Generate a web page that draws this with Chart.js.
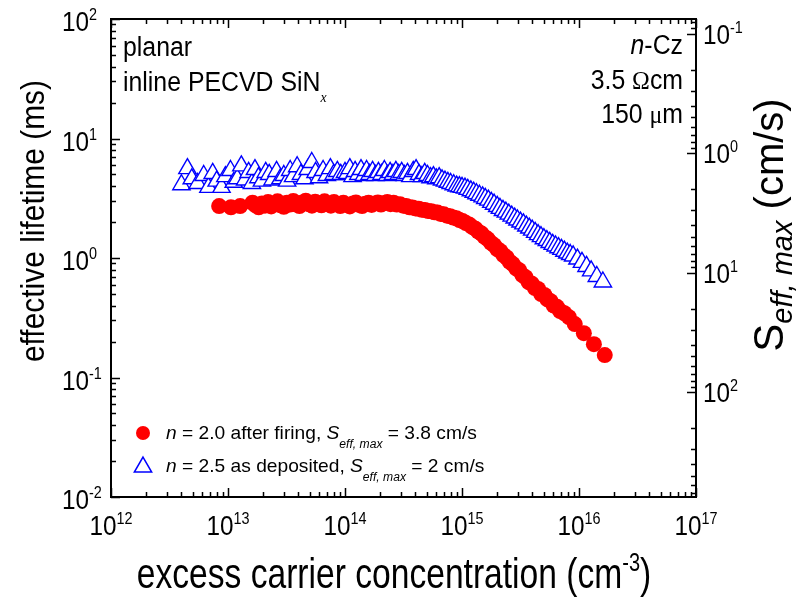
<!DOCTYPE html>
<html lang="en">
<head>
<meta charset="UTF-8">
<title>Effective lifetime vs excess carrier concentration</title>
<script src="https://cdn.jsdelivr.net/npm/chart.js"></script>
<style>
  body { margin: 0; background: #fff; }
  #wrap { width: 800px; height: 606px; }
</style>
</head>
<body>
<div id="wrap"><canvas id="lifetimeChart" width="800" height="606"></canvas></div>
<script>
// n = 2.0 after firing (red circles): excess carrier density (cm^-3) and lifetime (ms)
const firedN = [
  8.4e12, 1.06e13, 1.27e13, 1.62e13, 1.72e13, 1.83e13, 1.95e13, 2.07e13, 2.2e13, 2.34e13,
  2.49e13, 2.65e13, 2.82e13, 3.0e13, 3.19e13, 3.39e13, 3.61e13, 3.84e13, 4.08e13, 4.34e13,
  4.62e13, 4.91e13, 5.22e13, 5.56e13, 5.91e13, 6.29e13, 6.69e13, 7.11e13, 7.57e13, 8.05e13,
  8.56e13, 9.1e13, 9.68e13, 1.03e14, 1.1e14, 1.17e14, 1.24e14, 1.32e14, 1.4e14, 1.49e14,
  1.59e14, 1.69e14, 1.8e14, 1.91e14, 2.03e14, 2.16e14, 2.3e14, 2.45e14, 2.6e14, 2.77e14,
  2.95e14, 3.14e14, 3.34e14, 3.55e14, 3.77e14, 4.01e14, 4.27e14, 4.54e14, 4.83e14, 5.14e14,
  5.46e14, 5.81e14, 6.18e14, 6.57e14, 6.99e14, 7.44e14, 7.91e14, 8.41e14, 8.95e14, 9.52e14,
  1.01e15, 1.08e15, 1.15e15, 1.22e15, 1.3e15, 1.38e15, 1.47e15, 1.56e15, 1.66e15, 1.77e15,
  1.88e15, 2.0e15, 2.13e15, 2.26e15, 2.41e15, 2.56e15, 2.72e15, 2.9e15, 3.08e15, 3.28e15,
  3.49e15, 3.71e15, 3.95e15, 4.2e15, 4.47e15, 4.75e15, 5.06e15, 5.38e15, 5.72e15, 6.09e15,
  6.48e15, 6.89e15, 7.5e15, 8.2e15, 9.2e15, 1.1e16, 1.34e16, 1.66e16
];
const firedTau = [
  2.72, 2.66, 2.72, 2.90, 2.76, 2.66, 2.86, 2.74, 2.94, 2.70,
  2.82, 2.98, 2.76, 2.68, 2.90, 2.80, 3.00, 2.80, 2.72, 2.92,
  3.02, 2.82, 2.74, 2.96, 2.86, 2.76, 2.98, 2.84, 2.74, 2.94,
  2.82, 2.72, 2.90, 2.78, 2.70, 2.86, 2.92, 2.78, 2.72, 2.84,
  2.90, 2.78, 2.86, 2.92, 2.80, 2.88, 2.94, 2.82, 2.90, 2.80,
  2.82, 2.74, 2.72, 2.66, 2.64, 2.60, 2.58, 2.53, 2.52, 2.47,
  2.46, 2.41, 2.40, 2.34, 2.32, 2.26, 2.24, 2.18, 2.15, 2.08,
  2.04, 1.96, 1.91, 1.82, 1.76, 1.66, 1.60, 1.50, 1.44, 1.34,
  1.28, 1.19, 1.14, 1.06, 1.01, 0.93, 0.89, 0.82, 0.79, 0.72,
  0.69, 0.63, 0.61, 0.56, 0.55, 0.50, 0.49, 0.45, 0.435, 0.40,
  0.39, 0.36, 0.345, 0.32, 0.28, 0.235, 0.19, 0.154
];

// n = 2.5 as deposited (blue triangles)
const depositedN = [
  4.0e12, 4.5e12, 4.9e12, 5.5e12, 6.2e12, 6.8e12, 7.4e12, 8.0e12, 8.8e12, 9.5e12,
  1.05e13, 1.12e13, 1.2e13, 1.3e13, 1.4e13, 1.5e13, 1.6e13, 1.7e13, 1.82e13, 1.95e13,
  2.1e13, 2.25e13, 2.4e13, 2.6e13, 2.8e13, 3.0e13, 3.2e13, 3.4e13, 3.6e13, 3.9e13,
  4.2e13, 4.5e13, 4.8e13, 5.2e13, 5.6e13, 6.0e13, 6.5e13, 7.0e13, 7.5e13, 8.0e13,
  8.6e13, 9.2e13, 1.0e14, 1.05e14, 1.1e14, 1.16e14, 1.22e14, 1.3e14, 1.37e14, 1.45e14,
  1.53e14, 1.62e14, 1.72e14, 1.82e14, 1.93e14, 2.05e14, 2.17e14, 2.3e14, 2.43e14, 2.57e14,
  2.72e14, 2.88e14, 3.05e14, 3.23e14, 3.42e14, 3.62e14, 3.83e14, 4.05e14, 4.29e14, 4.54e14,
  4.8e14, 5.08e14, 5.38e14, 5.7e14, 6.03e14, 6.38e14, 6.75e14, 7.15e14, 7.57e14, 8.0e14,
  8.5e14, 9.0e14, 9.5e14, 1.0e15, 1.06e15, 1.12e15, 1.19e15, 1.26e15, 1.33e15, 1.41e15,
  1.5e15, 1.58e15, 1.68e15, 1.78e15, 1.88e15, 2.0e15, 2.11e15, 2.24e15, 2.37e15, 2.51e15,
  2.66e15, 2.82e15, 2.98e15, 3.16e15, 3.35e15, 3.55e15, 3.76e15, 3.98e15, 4.22e15, 4.47e15,
  4.73e15, 5.01e15, 5.31e15, 5.62e15, 5.96e15, 6.31e15, 6.68e15, 7.08e15, 7.5e15, 7.94e15,
  8.41e15, 8.91e15, 9.7e15, 1.06e16, 1.16e16, 1.27e16, 1.42e16, 1.6e16
];
const depositedTau = [
  4.1, 5.6, 4.6, 4.2, 4.9, 3.9, 5.1, 4.4, 3.9, 4.8,
  5.4, 4.3, 4.6, 5.9, 4.5, 5.2, 4.2, 5.5, 4.7, 4.4,
  5.2, 5.0, 4.5, 5.3, 4.6, 4.9, 4.4, 5.4, 4.8, 5.8,
  5.0, 4.6, 5.5, 6.3, 5.2, 4.7, 5.4, 4.9, 5.6, 5.0,
  5.3, 5.0, 5.2, 5.1, 5.6, 4.8, 5.3, 5.0, 5.5, 4.9,
  5.4, 5.0, 5.3, 4.9, 5.2, 5.0, 5.4, 4.9, 5.2, 5.0,
  5.3, 5.0, 5.2, 4.9, 5.1, 4.8, 5.3, 5.5, 5.0, 4.8,
  5.1, 4.9, 4.7, 4.8, 4.6, 4.7, 4.5, 4.4, 4.3, 4.2,
  4.1, 4.0, 3.95, 3.9, 3.85, 3.75, 3.65, 3.55, 3.45, 3.35,
  3.25, 3.15, 3.05, 2.92, 2.82, 2.7, 2.6, 2.5, 2.42, 2.33,
  2.24, 2.16, 2.08, 2.0, 1.93, 1.85, 1.78, 1.71, 1.64, 1.57,
  1.51, 1.45, 1.40, 1.35, 1.30, 1.26, 1.22, 1.18, 1.14, 1.10,
  1.07, 1.04, 0.98, 0.92, 0.85, 0.78, 0.70, 0.63
];

const xDecades = [12, 13, 14, 15, 16, 17];
const tauDecades = [-2, -1, 0, 1, 2];
const sDecades = [-1, 0, 1, 2];
const halfWidth = 7.5; // W/2 for 150 um, gives S (cm/s) = 7.5 / tau (ms)

const FONT = "'Liberation Sans', Arial, sans-serif";
const SERIF = "'Liberation Serif', 'Times New Roman', serif";

// draw a list of text runs [{t, size, style, dy}] on one baseline
function drawRuns(ctx, runs, x, y, align, sx, rot) {
  ctx.save();
  ctx.translate(x, y);
  if (rot) ctx.rotate(rot);
  ctx.scale(sx || 1, 1);
  ctx.textAlign = 'left';
  ctx.textBaseline = 'alphabetic';
  let total = 0;
  runs.forEach(r => {
    ctx.font = (r.style || '') + ' ' + r.size + 'px ' + (r.family || FONT);
    r.w = ctx.measureText(r.t).width;
    total += r.w;
  });
  let cx = align === 'right' ? -total : align === 'center' ? -total / 2 : 0;
  runs.forEach(r => {
    ctx.font = (r.style || '') + ' ' + r.size + 'px ' + (r.family || FONT);
    ctx.fillText(r.t, cx, r.dy || 0);
    cx += r.w;
  });
  ctx.restore();
}

function pow10(exp, size, supSize, supDy) {
  return [{ t: '10', size: size }, { t: String(exp), size: supSize, dy: supDy }];
}

const framePlugin = {
  id: 'frame',
  afterDatasetsDraw(chart) {
    const ctx = chart.ctx;
    const a = chart.chartArea;
    const xs = chart.scales.x, ys = chart.scales.y, ss = chart.scales.s;
    ctx.save();
    ctx.fillStyle = '#000';
    ctx.strokeStyle = '#000';

    // frame
    ctx.lineWidth = 2;
    ctx.strokeRect(a.left, a.top, a.right - a.left, a.bottom - a.top);

    // ticks, all pointing inwards
    ctx.lineWidth = 1.5;
    ctx.beginPath();
    xDecades.forEach(d => {
      const mults = d === 17 ? [1] : [1, 2, 3, 4, 5, 6, 7, 8, 9];
      mults.forEach(m => {
        const px = Math.round(xs.getPixelForValue(m * Math.pow(10, d))) + 0.5;
        const len = m === 1 ? 9 : 5;
        ctx.moveTo(px, a.bottom); ctx.lineTo(px, a.bottom - len);
        ctx.moveTo(px, a.top); ctx.lineTo(px, a.top + len);
      });
    });
    tauDecades.forEach(d => {
      const mults = d === 2 ? [1] : [1, 2, 3, 4, 5, 6, 7, 8, 9];
      mults.forEach(m => {
        const py = Math.round(ys.getPixelForValue(m * Math.pow(10, d))) + 0.5;
        const len = m === 1 ? 9 : 5;
        ctx.moveTo(a.left, py); ctx.lineTo(a.left + len, py);
      });
    });
    [-2, -1, 0, 1, 2].forEach(d => {
      [1, 2, 3, 4, 5, 6, 7, 8, 9].forEach(m => {
        const v = m * Math.pow(10, d);
        if (v < ss.min || v > ss.max) return;
        const py = Math.round(ss.getPixelForValue(v)) + 0.5;
        const len = m === 1 ? 9 : 5;
        ctx.moveTo(a.right, py); ctx.lineTo(a.right - len, py);
      });
    });
    ctx.stroke();

    // tick labels
    xDecades.forEach(d => {
      const px = xs.getPixelForValue(Math.pow(10, d));
      drawRuns(ctx, pow10(d, 27, 16, -11), px, a.bottom + 38, 'center', 0.9);
    });
    tauDecades.forEach(d => {
      const py = ys.getPixelForValue(Math.pow(10, d));
      drawRuns(ctx, pow10(d, 27, 16, -11), 62, py + 12, 'left', 0.9);
    });
    sDecades.forEach(d => {
      const py = ss.getPixelForValue(Math.pow(10, d));
      drawRuns(ctx, pow10(d, 27, 16, -11), 703, py + 10, 'left', 0.9);
    });

    // axis titles
    drawRuns(ctx, [
      { t: 'excess carrier concentration (cm', size: 42 },
      { t: '-3', size: 25, dy: -17 },
      { t: ')', size: 42 }
    ], 394, 588, 'center', 0.8);
    drawRuns(ctx, [{ t: 'effective lifetime (ms)', size: 34 }], 44, 221, 'center', 0.88, -Math.PI / 2);
    drawRuns(ctx, [
      { t: 'S', size: 42 },
      { t: 'eff, max', size: 29, style: 'italic', dy: 9 },
      { t: ' (cm/s)', size: 40 }
    ], 783, 225, 'center', 1, -Math.PI / 2);

    // annotations
    drawRuns(ctx, [{ t: 'planar', size: 27 }], 123, 56, 'left', 0.92);
    drawRuns(ctx, [
      { t: 'inline PECVD SiN', size: 27 },
      { t: 'x', size: 15, style: 'italic', family: SERIF, dy: 11 }
    ], 123, 91, 'left', 0.92);
    drawRuns(ctx, [{ t: 'n', size: 27, style: 'italic' }, { t: '-Cz', size: 27 }], 683, 54, 'right', 0.92);
    drawRuns(ctx, [{ t: '3.5 ', size: 27 }, { t: '\u03A9', size: 26, family: SERIF }, { t: 'cm', size: 27 }], 683, 89, 'right', 0.92);
    drawRuns(ctx, [{ t: '150 ', size: 27 }, { t: '\u03BC', size: 26, family: SERIF }, { t: 'm', size: 27 }], 683, 123, 'right', 0.92);

    // legend
    ctx.fillStyle = '#ff0000';
    ctx.beginPath();
    ctx.arc(143, 433, 7, 0, Math.PI * 2);
    ctx.fill();
    ctx.strokeStyle = '#0000ff';
    ctx.lineWidth = 1.5;
    ctx.beginPath();
    const tr = 10, tcx = 143, tcy = 467;
    ctx.moveTo(tcx, tcy - tr);
    ctx.lineTo(tcx + tr * Math.sin(2 * Math.PI / 3), tcy + tr / 2);
    ctx.lineTo(tcx - tr * Math.sin(2 * Math.PI / 3), tcy + tr / 2);
    ctx.closePath();
    ctx.stroke();
    ctx.fillStyle = '#000';
    drawRuns(ctx, [
      { t: 'n', size: 19, style: 'italic' },
      { t: ' = 2.0 after firing, ', size: 19 },
      { t: 'S', size: 19, style: 'italic' },
      { t: 'eff, max', size: 12, style: 'italic', dy: 9 },
      { t: ' = 3.8 cm/s', size: 19 }
    ], 166, 439, 'left', 1.01);
    drawRuns(ctx, [
      { t: 'n', size: 19, style: 'italic' },
      { t: ' = 2.5 as deposited, ', size: 19 },
      { t: 'S', size: 19, style: 'italic' },
      { t: 'eff, max', size: 12, style: 'italic', dy: 9 },
      { t: ' = 2 cm/s', size: 19 }
    ], 166, 472, 'left', 1.01);
    ctx.restore();
  }
};

new Chart(document.getElementById('lifetimeChart').getContext('2d'), {
  type: 'scatter',
  data: {
    datasets: [
      {
        label: 'n = 2.0 after firing',
        data: firedN.map((n, i) => ({ x: n, y: firedTau[i] })),
        pointStyle: 'circle',
        pointRadius: 8,
        backgroundColor: '#ff0000',
        borderColor: '#ff0000',
        borderWidth: 0
      },
      {
        label: 'n = 2.5 as deposited',
        data: depositedN.map((n, i) => ({ x: n, y: depositedTau[i] })),
        pointStyle: 'triangle',
        pointRadius: 10,
        backgroundColor: '#ffffff',
        borderColor: '#0000ff',
        borderWidth: 1.4
      }
    ]
  },
  options: {
    responsive: false,
    animation: false,
    devicePixelRatio: 1,
    layout: { padding: { left: 111, right: 104, top: 19, bottom: 109 } },
    plugins: { legend: { display: false }, tooltip: { enabled: false } },
    scales: {
      x: { type: 'logarithmic', min: 1e12, max: 1e17, display: false },
      y: { type: 'logarithmic', min: 1e-2, max: 1e2, display: false },
      s: { type: 'logarithmic', position: 'right', min: halfWidth / 100, max: halfWidth / 0.01, reverse: true, display: false }
    }
  },
  plugins: [framePlugin]
});
</script>
</body>
</html>
